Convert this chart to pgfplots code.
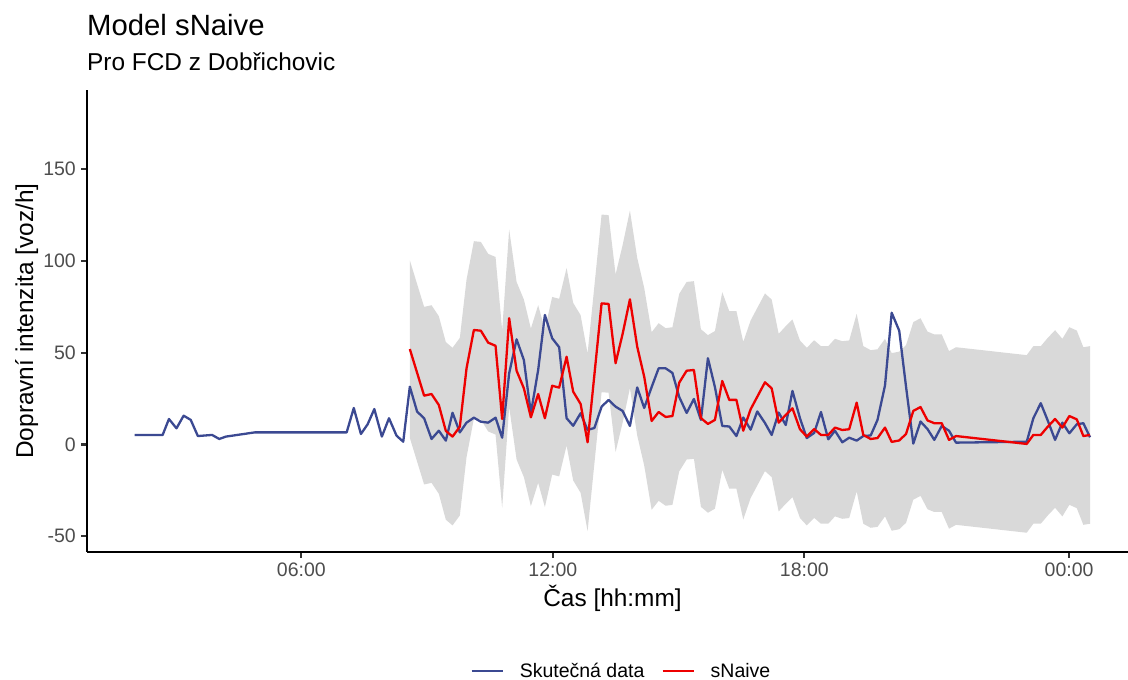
\documentclass[border=0pt]{standalone}
\usepackage{fontspec}
\setmainfont{Liberation Sans}
\usepackage{pgfplots}
\usepackage{pgfplotstable}
\pgfplotsset{compat=1.18}
\usepgfplotslibrary{fillbetween}
\definecolor{blueline}{HTML}{3B4992}
\definecolor{redline}{HTML}{EE0000}
\definecolor{bandgray}{HTML}{D9D9D9}
\definecolor{tickgray}{HTML}{4D4D4D}
\definecolor{tickmark}{HTML}{333333}

\pgfplotstableread{
t v
2.02 5.2
2.69 5.2
2.84 13.9
3.02 8.8
3.19 15.7
3.36 13.4
3.53 4.6
3.87 5.2
4.04 3.0
4.20 4.3
4.89 6.6
7.08 6.6
7.25 19.9
7.42 5.7
7.58 11.0
7.74 19.3
7.92 4.3
8.09 14.3
8.27 4.8
8.43 1.5
8.587 31.5
8.761 17.9
8.928 14.3
9.105 3.0
9.279 7.5
9.446 2.1
9.606 17.3
9.780 6.6
9.940 11.9
10.115 14.6
10.282 12.4
10.456 11.9
10.632 14.6
10.790 3.7
10.957 38.8
11.134 57.3
11.308 46.0
11.475 17.0
11.649 40.6
11.809 70.6
11.983 57.9
12.150 53.0
12.327 14.3
12.484 10.2
12.661 17.0
12.828 7.9
12.990 9.0
13.162 20.6
13.329 24.3
13.496 20.6
13.663 18.3
13.838 10.1
14.012 31.1
14.179 19.9
14.356 31.3
14.523 41.5
14.690 41.5
14.852 39.0
15.014 25.9
15.191 17.2
15.365 24.8
15.532 13.4
15.699 47.0
15.866 31.3
16.041 10.1
16.208 9.8
16.379 4.6
16.542 14.7
16.718 8.1
16.876 18.0
17.060 11.7
17.220 5.2
17.387 17.4
17.556 10.6
17.716 29.2
17.895 14.3
18.057 3.5
18.234 6.3
18.396 17.7
18.570 2.8
18.730 7.5
18.905 1.2
19.069 3.7
19.248 2.1
19.406 4.6
19.582 4.9
19.745 13.4
19.924 32.2
20.083 71.8
20.263 62.0
20.425 31.6
20.599 0.5
20.771 12.5
20.938 8.4
21.100 2.5
21.277 10.1
21.451 7.5
21.618 1.0
23.305 1.5
23.463 14.3
23.640 22.5
23.807 13.0
23.981 2.5
24.155 11.9
24.322 6.1
24.499 11.0
24.656 11.6
24.816 3.9
}\blue

\pgfplotstableread{
t v lo hi
8.587 52.0 3.6 100.4
8.928 26.6 -21.8 75.0
9.105 27.5 -20.9 75.9
9.279 21.5 -26.9 69.9
9.446 7.4 -41.0 55.8
9.606 4.3 -44.1 52.7
9.780 9.7 -38.7 58.1
9.940 41.5 -6.9 89.9
10.115 62.4 14.0 110.8
10.282 62.0 13.6 110.4
10.456 55.5 7.1 103.9
10.632 53.8 5.4 102.2
10.790 13.9 -34.5 62.3
10.957 68.8 20.4 117.2
11.134 40.2 -8.2 88.6
11.308 30.6 -17.8 79.0
11.475 14.8 -33.6 63.2
11.649 27.5 -20.9 75.9
11.809 14.3 -34.1 62.7
11.983 32.0 -16.4 80.4
12.150 31.0 -17.4 79.4
12.327 47.8 -0.6 96.2
12.484 28.8 -19.6 77.2
12.661 22.1 -26.3 70.5
12.828 1.2 -47.2 49.6
13.162 76.9 28.5 125.3
13.329 76.6 28.2 125.0
13.496 44.3 -4.1 92.7
13.663 60.2 11.8 108.6
13.838 79.1 30.7 127.5
14.012 53.3 4.9 101.7
14.179 36.9 -11.5 85.3
14.356 12.8 -35.6 61.2
14.523 17.7 -30.7 66.1
14.690 15.0 -33.4 63.4
14.852 15.5 -32.9 63.9
15.014 33.7 -14.7 82.1
15.191 40.2 -8.2 88.6
15.365 40.6 -7.8 89.0
15.532 14.4 -34.0 62.8
15.699 11.2 -37.2 59.6
15.866 13.4 -35.0 61.8
16.041 34.6 -13.8 83.0
16.208 24.3 -24.1 72.7
16.379 24.3 -24.1 72.7
16.542 7.5 -40.9 55.9
16.718 19.2 -29.2 67.6
16.876 26.0 -22.4 74.4
17.060 33.9 -14.5 82.3
17.220 30.6 -17.8 79.0
17.387 11.9 -36.5 60.3
17.556 16.1 -32.3 64.5
17.716 19.7 -28.7 68.1
17.895 8.3 -40.1 56.7
18.057 4.3 -44.1 52.7
18.234 8.4 -40.0 56.8
18.396 5.2 -43.2 53.6
18.570 5.2 -43.2 53.6
18.730 9.2 -39.2 57.6
18.905 7.9 -40.5 56.3
19.069 8.3 -40.1 56.7
19.248 22.8 -25.6 71.2
19.406 5.2 -43.2 53.6
19.582 3.0 -45.4 51.4
19.745 3.5 -44.9 51.9
19.924 9.2 -39.2 57.6
20.083 1.4 -47.0 49.8
20.263 2.2 -46.2 50.6
20.425 5.7 -42.7 54.1
20.599 18.3 -30.1 66.7
20.771 20.4 -28.0 68.8
20.938 13.1 -35.3 61.5
21.100 11.6 -36.8 60.0
21.277 11.6 -36.8 60.0
21.451 2.5 -45.9 50.9
21.618 4.6 -43.8 53.0
23.305 0.3 -48.1 48.7
23.463 5.2 -43.2 53.6
23.640 5.2 -43.2 53.6
23.807 9.7 -38.7 58.1
23.981 13.9 -34.5 62.3
24.155 9.2 -39.2 57.6
24.322 15.5 -32.9 63.9
24.499 13.7 -34.7 62.1
24.656 4.6 -43.8 53.0
24.816 5.2 -43.2 53.6
}\red

\begin{document}
\begin{tikzpicture}
\begin{axis}[
  at={(87bp,128bp)}, anchor=south west,
  scale only axis, width=1051bp, height=462bp,
  xmin=0.885, xmax=25.96, ymin=-58.6, ymax=193.2,
  axis x line*=bottom, axis y line*=left,
  axis line style={black, line width=2.2bp, -},
  xtick={6,12,18,24.315}, xticklabels={06:00,12:00,18:00,00:00},
  ytick={-50,0,50,100,150}, yticklabels={-50,0,50,100,150},
  tick align=outside, major tick length=6bp,
  tick style={tickmark, line width=2.2bp},
  ticklabel style={font=\fontsize{19.5bp}{22bp}\selectfont, text=tickgray},
  xticklabel style={anchor=north, inner sep=0pt, yshift=-5bp},
  yticklabel style={anchor=east, inner sep=0pt, xshift=-5bp},
  legend style={at={(0.5075,-0.2576)}, anchor=center, draw=none, fill=none,
    font=\fontsize{19.5bp}{22bp}\selectfont, inner sep=0pt,
    nodes={inner sep=0pt},
    /tikz/every odd column/.style={column sep=16bp},
    /tikz/every even column/.style={column sep=17bp}},
  legend columns=-1,
  legend image code/.code={\draw[#1] (0bp,0bp) -- (31bp,0bp);},
]
\addplot[name path=hi, draw=none, forget plot] table[x=t, y=hi] {\red};
\addplot[name path=lo, draw=none, forget plot] table[x=t, y=lo] {\red};
\addplot[fill=bandgray, draw=none, forget plot] fill between[of=hi and lo];
\addplot[blueline, line width=2.3bp, line join=round] table[x=t, y=v] {\blue};
\addlegendentry{Skutečná data}
\addplot[redline, line width=2.3bp, line join=round] table[x=t, y=v] {\red};
\addlegendentry{sNaive}
\end{axis}
\node[anchor=base west, inner sep=0pt, font=\fontsize{29.3bp}{32bp}\selectfont] at (87bp,644bp) {Model sNaive};
\node[anchor=base west, inner sep=0pt, font=\fontsize{24.4bp}{27bp}\selectfont] at (87bp,609bp) {Pro FCD z Dobřichovic};
\node[anchor=base, inner sep=0pt, font=\fontsize{24.4bp}{27bp}\selectfont] at (612.5bp,73bp) {Čas [hh:mm]};
\node[anchor=base, rotate=90, inner sep=0pt, font=\fontsize{24.4bp}{27bp}\selectfont] at (33bp,359bp) {Dopravní intenzita [voz/h]};
\pgfresetboundingbox
\path[use as bounding box] (0,0) rectangle (1128bp,680bp);
\end{tikzpicture}
\end{document}
